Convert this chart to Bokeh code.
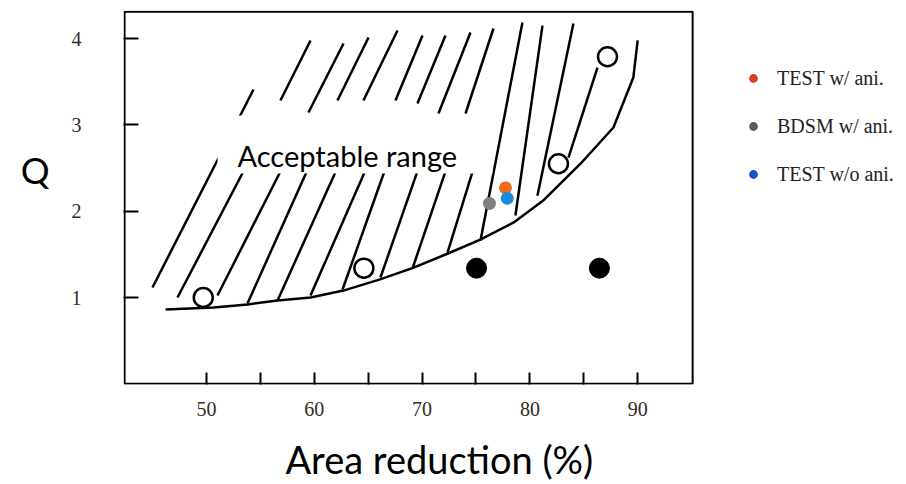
from bokeh.plotting import figure
from bokeh.models import FixedTicker, Label, BoxAnnotation, Legend, LegendItem, LinearAxis
from bokeh.embed import file_html
from bokeh.resources import INLINE

# ---- axes ----
x_ticks = [50, 60, 70, 80, 90]
x_minor_ticks = [55, 65, 75, 85]
y_ticks = [1, 2, 3, 4]
x_title = "Area reduction (%)"
y_title = "Q"
x_min, x_max = 42.4, 95.1      # plotted box
y_min, y_max = 0.0, 4.31

# ---- lower boundary of the acceptable range ----
curve_x = [46.2, 50.65, 53.8, 56.6, 59.65, 62.7, 66.1, 69.1, 72.4, 75.4, 78.5, 81.3, 84.7, 87.75, 89.6, 90.0]
curve_y = [0.86, 0.884, 0.92, 0.965, 1.0, 1.08, 1.21, 1.34, 1.51, 1.67, 1.87, 2.13, 2.55, 2.97, 3.55, 3.98]

# ---- hatch strokes (start / end) ----
hatch_x0 = [44.99, 47.31, 51.02, 53.80, 56.59, 59.65, 62.62, 66.14, 69.11, 72.36,
            56.86, 59.46, 62.15, 64.56, 67.53, 69.57, 71.52, 74.03,
            75.42, 78.66, 80.70, 83.58]
hatch_y0 = [1.116, 1.0, 1.023, 0.93, 0.965, 1.023, 1.093, 1.232, 1.336, 1.52,
            3.283, 3.144, 3.283, 3.283, 3.283, 3.248, 3.132, 3.132,
            1.66, 1.95, 2.18, 2.62]
hatch_x1 = [54.36, 53.71, 57.14, 59.55, 62.24, 64.94, 66.70, 69.76, 72.36, 74.86,
            59.65, 62.71, 65.03, 67.72, 70.04, 72.17, 74.49, 76.62,
            79.31, 81.17, 84.04, 86.27]
hatch_y1 = [3.41, 2.53, 2.53, 2.53, 2.53, 2.53, 2.53, 2.53, 2.53, 2.53,
            3.978, 3.943, 4.013, 4.094, 4.036, 4.036, 4.071, 4.117,
            4.187, 4.15, 4.175, 3.665]

# ---- original experimental points ----
open_x = [49.7, 64.6, 82.65, 87.2]
open_y = [1.0, 1.34, 2.55, 3.79]
filled_x = [75.05, 86.45]
filled_y = [1.34, 1.34]

# ---- new points ----
series_names = ["TEST w/ ani.", "BDSM w/ ani.", "TEST w/o ani."]
series_x = [77.74, 76.25, 77.9]
series_y = [2.27, 2.09, 2.15]
point_colors = ["#EE6A1E", "#808080", "#1B8AD8"]
legend_colors = ["#D8431B", "#5A5A5A", "#1A52C2"]

# ---- annotation box ----
box_text = "Acceptable range"
box_left, box_right, box_bottom, box_top = 51.02, 76.53, 2.437, 3.109

# frame extends to the right edge so the legend can live inside it;
# the visible chart box is drawn with a BoxAnnotation
p = figure(width=906, height=484, x_range=(42.30, 114.94), y_range=(-0.0081, 4.3256),
           output_backend="svg", toolbar_location=None,
           min_border_left=123, min_border_right=0, min_border_top=10, min_border_bottom=100)
p.background_fill_color = "white"
p.border_fill_color = "white"
p.grid.visible = False
p.outline_line_color = None

p.xaxis.ticker = FixedTicker(ticks=x_ticks, minor_ticks=x_minor_ticks)
p.yaxis.ticker = FixedTicker(ticks=y_ticks, minor_ticks=[])
for ax in (p.xaxis, p.yaxis):
    ax.axis_line_color = None
    ax.major_tick_line_color = "black"
    ax.major_tick_line_width = 2
    ax.major_tick_out = 0
    ax.minor_tick_out = 0
    ax.major_label_text_font = "Liberation Serif"
    ax.major_label_text_font_size = "20px"
    ax.major_label_text_color = "#33291f"
p.xaxis.major_tick_in = 12
p.xaxis.minor_tick_in = 12
p.xaxis.minor_tick_line_color = "black"
p.xaxis.minor_tick_line_width = 2
p.xaxis.major_label_standoff = 17
p.yaxis.major_tick_in = 15
p.yaxis.minor_tick_line_color = None
p.yaxis.major_label_standoff = 42

# axis titles drawn as single-tick extra axes (placed where the reference shows them)
q_pos = 2.48
title_pos = 71.6
q_axis = LinearAxis(ticker=FixedTicker(ticks=[q_pos], minor_ticks=[]),
                    major_label_overrides={q_pos: y_title},
                    axis_line_color=None, major_tick_line_color=None, minor_tick_line_color=None,
                    major_label_text_font="Lato", major_label_text_font_size="36px",
                    major_label_text_color="black", major_label_standoff=13)
p.add_layout(q_axis, "left")
t_axis = LinearAxis(ticker=FixedTicker(ticks=[title_pos], minor_ticks=[]),
                    major_label_overrides={title_pos: x_title},
                    axis_line_color=None, major_tick_line_color=None, minor_tick_line_color=None,
                    major_label_text_font="Lato", major_label_text_font_size="38px",
                    major_label_text_color="black", major_label_standoff=11)
p.add_layout(t_axis, "below")

# chart box
p.add_layout(BoxAnnotation(left=x_min, right=x_max, bottom=y_min, top=y_max,
                           fill_alpha=0, line_color="black", line_alpha=1.0, line_width=2))

# hatching and boundary
p.segment(x0=hatch_x0, y0=hatch_y0, x1=hatch_x1, y1=hatch_y1, line_color="black", line_width=2.5)
p.line(curve_x, curve_y, line_color="black", line_width=2.5)

# white box with text
p.add_layout(BoxAnnotation(left=box_left, right=box_right, bottom=box_bottom, top=box_top,
                           fill_color="white", fill_alpha=1.0, line_color=None))
p.add_layout(Label(x=52.88, y=2.645, text=box_text, text_font="Lato",
                   text_font_size="29px", text_color="black", text_align="left",
                   text_baseline="alphabetic"))

# points
p.scatter(open_x, open_y, size=19, fill_color="white", line_color="black", line_width=2.5)
p.scatter(filled_x, filled_y, size=20, fill_color="black", line_color="black")

# legend renderers (legend colours), then the visible points drawn on top of them
items = []
for i, (name, col) in enumerate(zip(series_names, legend_colors)):
    r = p.scatter([series_x[i]], [series_y[i]], size=9, fill_color=col, line_color=None)
    items.append(LegendItem(label=name, renderers=[r]))
for i in [1, 0, 2]:
    p.scatter([series_x[i]], [series_y[i]], size=13, fill_color=point_colors[i], line_color=None)

legend = Legend(items=items, location=(619, 198), orientation="vertical",
                glyph_width=22, glyph_height=24, label_height=24, spacing=24,
                padding=0, margin=0, label_standoff=13,
                background_fill_alpha=0, border_line_color=None,
                label_text_font="Liberation Serif", label_text_font_size="20px",
                label_text_color="#222222")
p.add_layout(legend)

open("out.html", "w").write(file_html(p, INLINE))
